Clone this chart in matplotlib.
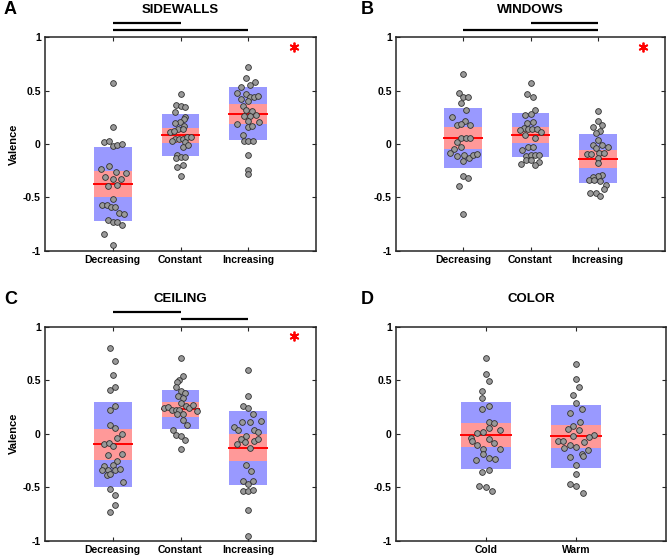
import matplotlib
matplotlib.use("Agg")
import matplotlib.pyplot as plt
from matplotlib.patches import Rectangle

plt.rcParams['font.family'] = ['Liberation Sans', 'DejaVu Sans']
plt.rcParams['font.weight'] = 'bold'

# ---------------- data ----------------
panel_titles = ["SIDEWALLS", "WINDOWS", "CEILING", "COLOR"]
panel_letters = ["A", "B", "C", "D"]
cats3 = ["Decreasing", "Constant", "Increasing"]
cats2 = ["Cold", "Warm"]
y_ticks = [-1, -0.5, 0, 0.5, 1]
y_tick_labels = ["-1", "-0.5", "0", "0.5", "1"]

sidewalls_dec = [0.57, 0.16, 0.02, 0.025, -0.02, -0.01, 0.0, -0.23, -0.21, -0.26, -0.27, -0.31, -0.33, -0.33,
                 -0.39, -0.38, -0.52, -0.57, -0.57, -0.59, -0.59, -0.65, -0.66, -0.71, -0.73, -0.73, -0.76,
                 -0.84, -0.95]
sidewalls_dec_dx = [0, 0, -0.13, -0.06, 0.005, 0.07, 0.13, -0.18, -0.06, 0.05, 0.19, -0.12, 0.0, 0.12,
                    -0.07, 0.07, 0, -0.16, -0.08, -0.02, 0.04, 0.09, 0.16, -0.07, 0, 0.07, 0.14, -0.13, 0]
sidewalls_con = [0.47, 0.366, 0.356, 0.35, 0.30, 0.25, 0.23, 0.21, 0.20, 0.17, 0.14, 0.14, 0.115, 0.12, 0.05,
                 0.05, 0.05, 0.065, 0.065, 0.025, 0.02, -0.03, -0.005, -0.10, -0.13, -0.12, -0.12, -0.22,
                 -0.20, -0.30]
sidewalls_con_dx = [0, -0.07, 0.005, 0.07, -0.08, 0.07, 0.05, -0.01, -0.08, 0.05, -0.03, 0.03, -0.157, -0.1,
                    -0.08, -0.02, 0.04, 0.10, 0.16, -0.13, 0.06, 0.03, 0.11, -0.05, -0.07, 0, 0.07, -0.05,
                    0.04, 0]
sidewalls_inc = [0.72, 0.62, 0.585, 0.53, 0.55, 0.48, 0.47, 0.44, 0.44, 0.45, 0.42, 0.40, 0.36, 0.315, 0.305,
                 0.26, 0.265, 0.275, 0.215, 0.21, 0.19, 0.16, 0.165, 0.08, 0.03, 0.03, 0.03, -0.10, -0.24,
                 -0.28]
sidewalls_inc_dx = [0, -0.04, 0.1, -0.11, 0.03, -0.16, -0.04, 0.02, 0.09, 0.15, -0.1, 0, -0.08, -0.04, 0.06,
                    -0.07, 0.02, 0.12, -0.01, 0.16, -0.16, 0, 0.06, -0.08, -0.07, 0, 0.07, 0, 0, 0]

windows_dec = [0.66, 0.475, 0.44, 0.445, 0.38, 0.315, 0.25, 0.22, 0.18, 0.185, 0.18, 0.02, 0.055, 0.055,
               0.053, -0.03, -0.045, -0.085, -0.11, -0.10, -0.13, -0.10, -0.09, -0.16, -0.30, -0.32, -0.39,
               -0.66]
windows_dec_dx = [0, -0.07, 0, 0.07, -0.04, 0.04, -0.16, 0.03, -0.09, -0.03, 0.1, -0.1, -0.03, 0.04, 0.1,
                  -0.03, -0.14, -0.2, -0.09, 0.01, 0.09, 0.15, 0.21, 0, 0, 0.07, -0.07, 0]
windows_con = [0.57, 0.47, 0.44, 0.32, 0.285, 0.27, 0.21, 0.20, 0.15, 0.13, 0.14, 0.14, 0.14, 0.11, 0.08,
               0.06, -0.025, -0.025, -0.06, -0.11, -0.10, -0.10, -0.10, -0.15, -0.15, -0.19, -0.17, -0.20]
windows_con_dx = [0, -0.045, 0.03, 0.07, 0, -0.08, 0.03, -0.045, -0.1, -0.16, -0.04, 0.02, 0.09, 0.15, -0.08,
                  0.07, -0.04, 0.04, -0.13, -0.07, 0, 0.07, 0.13, -0.07, 0, -0.14, 0.12, 0.06]
windows_inc = [0.306, 0.215, 0.175, 0.16, 0.125, 0.10, 0.035, -0.01, -0.01, -0.03, -0.035, -0.095, -0.09,
               -0.085, -0.085, -0.135, -0.18, -0.29, -0.30, -0.31, -0.34, -0.34, -0.35, -0.38, -0.42, -0.46,
               -0.46, -0.49]
windows_inc_dx = [0, 0, 0.07, -0.07, 0.04, -0.03, 0, -0.07, 0.07, 0.15, -0.02, -0.16, -0.1, 0.02, 0.09, 0, 0,
                  0.07, 0, -0.07, -0.13, -0.06, 0.03, 0.13, 0.1, -0.11, -0.03, 0.03]

ceiling_dec = [0.80, 0.68, 0.55, 0.41, 0.435, 0.22, 0.26, 0.08, 0.05, -0.006, -0.04, -0.10, -0.09, -0.115,
               -0.2, -0.19, -0.255, -0.29, -0.30, -0.335, -0.34, -0.335, -0.33, -0.39, -0.38, -0.45, -0.52,
               -0.575, -0.67, -0.73]
ceiling_dec_dx = [-0.035, 0.04, 0, -0.035, 0.04, -0.035, 0.04, -0.035, 0.04, 0.13, 0.06, -0.13, -0.06, 0.005,
                  -0.07, 0.13, 0.06, 0, -0.13, -0.07, -0.16, 0.03, 0.1, -0.09, -0.035, 0.15, -0.035, 0.04,
                  0.04, -0.035]
ceiling_con = [0.71, 0.54, 0.50, 0.48, 0.44, 0.40, 0.38, 0.355, 0.335, 0.285, 0.255, 0.236, 0.27, 0.24, 0.25,
               0.22, 0.22, 0.225, 0.21, 0.186, 0.18, 0.13, 0.084, 0.03, -0.01, -0.02, -0.056, -0.143]
ceiling_con_dx = [0, 0.035, -0.025, -0.05, -0.07, 0, 0.07, -0.03, 0.035, 0, 0.08, 0.13, 0.18, -0.245, -0.19,
                  -0.13, -0.07, -0.02, 0.24, -0.05, 0.04, 0.035, 0.09, -0.11, -0.07, 0, 0.07, 0]
ceiling_inc = [0.60, 0.35, 0.26, 0.24, 0.18, 0.12, 0.11, 0.11, 0.06, 0.03, 0.03, 0.02, -0.02, -0.045, -0.10,
               -0.08, -0.07, -0.05, -0.13, -0.29, -0.35, -0.44, -0.47, -0.44, -0.54, -0.54, -0.53, -0.71,
               -0.96]
ceiling_inc_dx = [0, 0, -0.08, 0, 0.07, 0.19, -0.09, 0.03, -0.21, -0.15, 0.08, 0.15, -0.03, -0.1, -0.16,
                  -0.05, 0.08, 0.15, 0.025, -0.04, 0.035, -0.08, 0, 0.07, -0.08, 0, 0.07, 0, 0]

color_cold = [0.71, 0.56, 0.49, 0.40, 0.33, 0.23, 0.26, 0.11, 0.10, 0.056, 0.034, 0.01, 0.02, -0.037, -0.07,
              -0.047, -0.084, -0.105, -0.146, -0.143, -0.186, -0.227, -0.233, -0.25, -0.354, -0.34, -0.49,
              -0.50, -0.54]
color_cold_dx = [0, 0, 0.033, -0.04, -0.04, -0.04, 0.033, 0.033, 0.093, 0.03, 0.155, -0.1, -0.033, -0.163,
                 -0.16, 0.03, 0.093, -0.1, 0.155, -0.033, -0.033, 0.033, 0.1, -0.107, -0.04, 0.033, -0.078,
                 0, 0.07]
color_warm = [0.655, 0.51, 0.435, 0.36, 0.286, 0.23, 0.19, 0.106, 0.075, 0.043, 0.037, -0.025, -0.012, -0.03,
              -0.068, -0.068, -0.075, -0.105, -0.12, -0.133, -0.15, -0.19, -0.21, -0.22, -0.29, -0.38, -0.47,
              -0.49, -0.55]
color_warm_dx = [0, 0, 0.037, -0.037, 0, 0.07, -0.067, 0.044, -0.037, -0.085, 0.03, -0.033, 0.204, 0.148,
                 -0.2, -0.144, 0.089, -0.063, 0, -0.13, 0.133, 0.067, 0.074, -0.067, 0, 0, -0.07, 0, 0.074]

# group summary statistics: mean, SD half-height, 95% CI half-height
sidewalls_mean = [-0.375, 0.084, 0.284]
sidewalls_sd = [0.348, 0.195, 0.248]
sidewalls_ci = [0.125, 0.070, 0.0925]
windows_mean = [0.056, 0.084, -0.140]
windows_sd = [0.285, 0.2075, 0.230]
windows_ci = [0.103, 0.075, 0.0825]
ceiling_mean = [-0.100, 0.227, -0.130]
ceiling_sd = [0.395, 0.185, 0.345]
ceiling_ci = [0.1435, 0.0675, 0.126]
color_mean = [-0.016, -0.025]
color_sd = [0.315, 0.2935]
color_ci = [0.1115, 0.107]

# significance comparisons (pairs of category indices, 1-based), lower bar first
sidewalls_sig = [(1, 3), (1, 2)]
windows_sig = [(1, 3), (2, 3)]
ceiling_sig = [(2, 3), (1, 2)]
color_sig = []

panels = [
    dict(cats=cats3, vals=[sidewalls_dec, sidewalls_con, sidewalls_inc],
         dx=[sidewalls_dec_dx, sidewalls_con_dx, sidewalls_inc_dx],
         mean=sidewalls_mean, sd=sidewalls_sd, ci=sidewalls_ci, sig=sidewalls_sig, star=True),
    dict(cats=cats3, vals=[windows_dec, windows_con, windows_inc],
         dx=[windows_dec_dx, windows_con_dx, windows_inc_dx],
         mean=windows_mean, sd=windows_sd, ci=windows_ci, sig=windows_sig, star=True),
    dict(cats=cats3, vals=[ceiling_dec, ceiling_con, ceiling_inc],
         dx=[ceiling_dec_dx, ceiling_con_dx, ceiling_inc_dx],
         mean=ceiling_mean, sd=ceiling_sd, ci=ceiling_ci, sig=ceiling_sig, star=True),
    dict(cats=cats2, vals=[color_cold, color_warm], dx=[color_cold_dx, color_warm_dx],
         mean=color_mean, sd=color_sd, ci=color_ci, sig=color_sig, star=False),
]

# ---------------- figure ----------------
W, H = 669, 560
fig = plt.figure(figsize=(W / 100, H / 100), dpi=100)

# axes rectangles in pixels: left, top, right, bottom
rects = [(45, 37.3, 316, 250.7), (396, 37.3, 665, 250.7),
         (45, 326.7, 316, 540.7), (396, 326.7, 666, 540.7)]
letter_pos = [(4, 9), (361, 9), (4, 300), (361, 300)]

box_w = 0.56
blue = '#9999FF'
pink = '#FF9999'

for i, (p, r) in enumerate(zip(panels, rects)):
    l, t, rr, b = r
    ax = fig.add_axes([l / W, 1 - b / H, (rr - l) / W, (b - t) / H])
    n = len(p['cats'])
    xs = list(range(1, n + 1))
    for j in range(n):
        x0 = xs[j]
        m, sd, ci = p['mean'][j], p['sd'][j], p['ci'][j]
        ax.add_patch(Rectangle((x0 - box_w / 2, m - sd), box_w, 2 * sd, facecolor=blue,
                               edgecolor='none', zorder=1))
        ax.add_patch(Rectangle((x0 - box_w / 2, m - ci), box_w, 2 * ci, facecolor=pink,
                               edgecolor='none', zorder=2))
        ax.plot([x0 - box_w / 2, x0 + box_w / 2], [m, m], color='#FF0000', lw=1.4, zorder=3)
        px = [x0 + d for d in p['dx'][j]]
        ax.scatter(px, p['vals'][j], s=17, facecolor='#999999', edgecolor='#303030',
                   linewidths=0.6, zorder=4)
    ax.set_xlim(0, n + 1)
    ax.set_ylim(-1, 1)
    ax.set_xticks(xs)
    ax.set_xticklabels(p['cats'], fontsize=7.5, fontweight='bold')
    ax.set_yticks(y_ticks)
    ax.set_yticklabels(y_tick_labels, fontsize=7.5, fontweight='bold')
    ax.tick_params(direction='in', length=3, width=0.8, top=True, right=True, pad=3,
                   color='#262626')
    for s in ax.spines.values():
        s.set_linewidth(1.1)
        s.set_color('#262626')
    if i % 2 == 0:
        ax.set_ylabel('Valence', fontsize=8, fontweight='bold', labelpad=3)
    # title
    ax.text(0.5, 1 + 27.5 / (b - t), panel_titles[i], transform=ax.transAxes, ha='center',
            va='center', fontsize=9.5, fontweight='bold')
    # significance bars
    levels = [1.068, 1.137]
    for k, (a1, a2) in enumerate(p['sig']):
        ax.plot([a1, a2], [levels[k], levels[k]], color='black', lw=1.6, clip_on=False,
                solid_capstyle='butt')
    if p['star']:
        ax.plot([3.68], [0.91], marker=(6, 2, 0), ms=7, mew=1.3, color='#FF0000', zorder=5)
    fig.text(letter_pos[i][0] / W, 1 - letter_pos[i][1] / H, panel_letters[i], fontsize=13,
             fontweight='bold', ha='left', va='center')

fig.savefig('out.png', dpi=100)
